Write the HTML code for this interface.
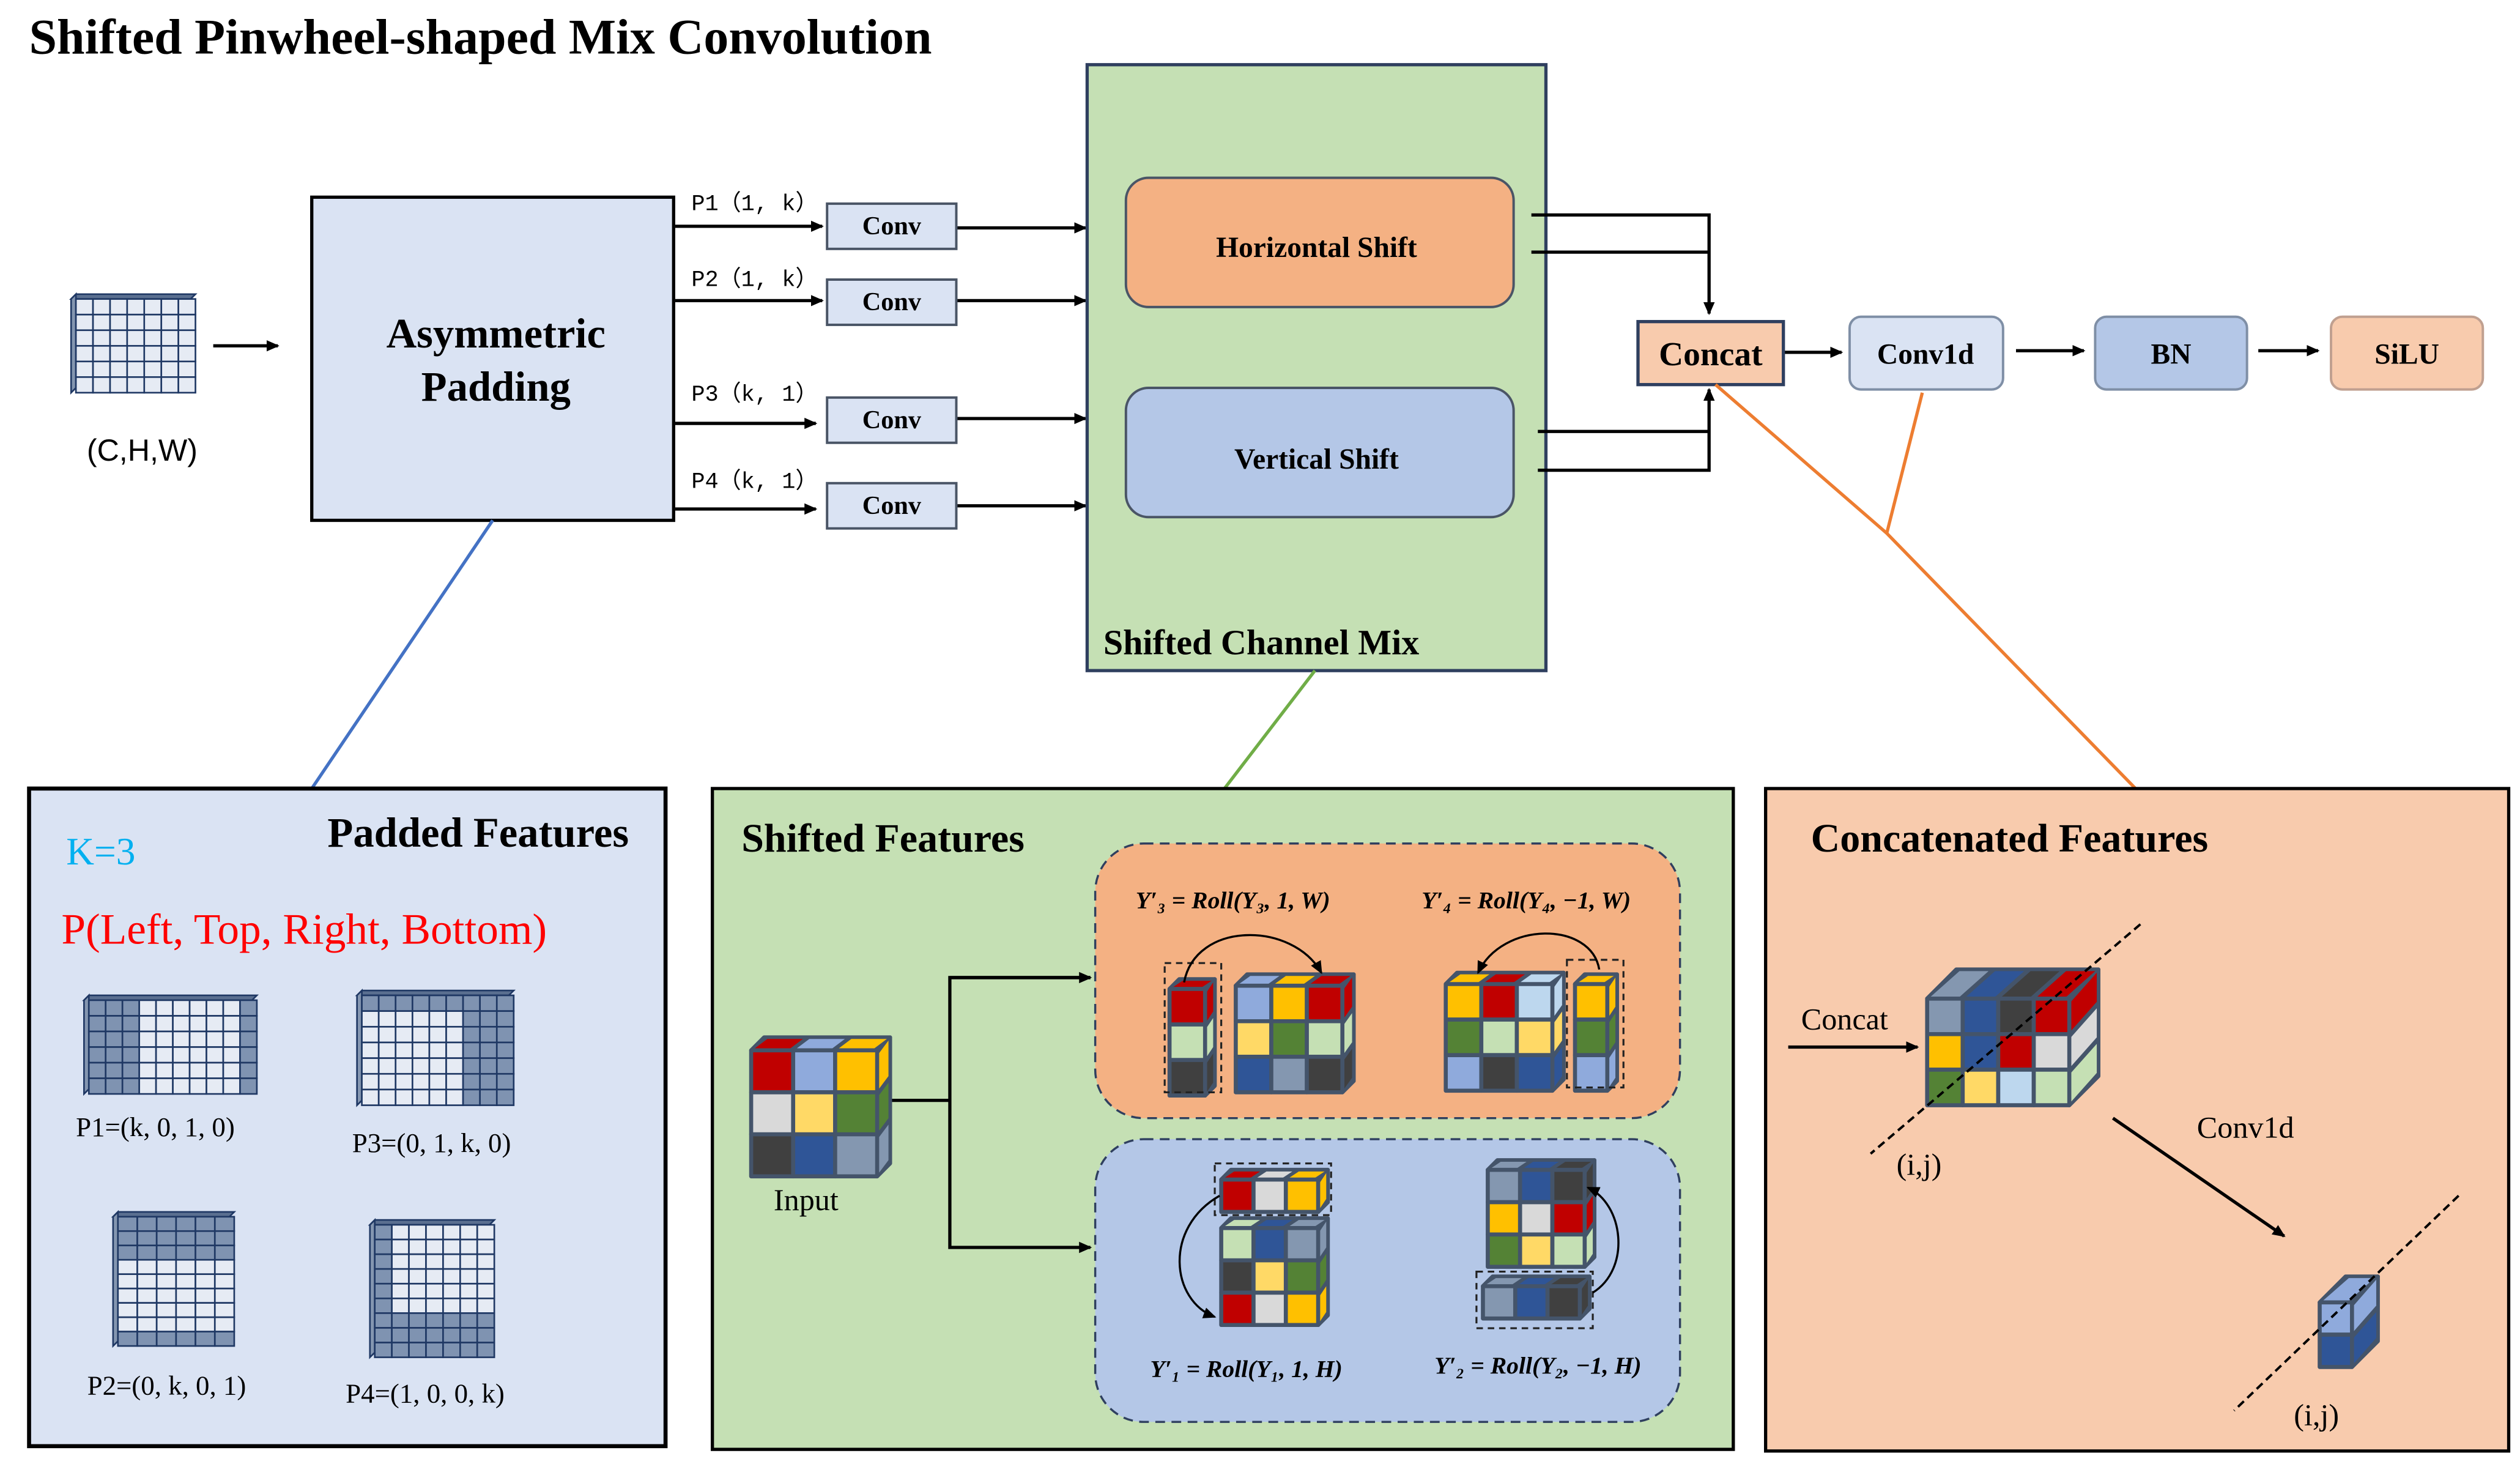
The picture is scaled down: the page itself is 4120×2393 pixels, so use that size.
<!DOCTYPE html>
<html><head><meta charset="utf-8"><style>
html,body{margin:0;padding:0;background:#fff}
svg{display:block}
text{font-family:"Liberation Serif",serif}
.b{font-weight:bold}
.m{font-family:"Liberation Mono",monospace}
</style></head><body>
<svg id="s" xmlns="http://www.w3.org/2000/svg" width="4120" height="2393" viewBox="0 0 1560 906" font-family="Liberation Serif, serif">
<defs>
<marker id="a" markerWidth="8" markerHeight="8" refX="7" refY="4" orient="auto" markerUnits="userSpaceOnUse"><path d="M0,0.5 L8,4 L0,7.5 Z" fill="#000"/></marker>
</defs>
<rect width="1560" height="906" fill="#fff"/>
<text x="18" y="33" font-size="31" class="b">Shifted Pinwheel-shaped Mix Convolution</text>

<g id="inicon"></g>
<text x="88" y="285" font-size="19" text-anchor="middle" style="font-family:'Liberation Sans',sans-serif">(C,H,W)</text>
<line x1="132" y1="214" x2="172" y2="214" stroke="#000" stroke-width="2" marker-end="url(#a)"/>

<rect x="193" y="122" width="224" height="200" fill="#dae3f3" stroke="#000" stroke-width="2"/>
<text x="307" y="215" font-size="26" class="b" text-anchor="middle">Asymmetric</text>
<text x="307" y="248" font-size="26" class="b" text-anchor="middle">Padding</text>

<g font-size="14" class="m">
<text x="428" y="130" class="m">P1（1, k）</text>
<text x="428" y="177" class="m">P2（1, k）</text>
<text x="428" y="248" class="m">P3（k, 1）</text>
<text x="428" y="302" class="m">P4（k, 1）</text>
</g>
<g stroke="#000" stroke-width="2" marker-end="url(#a)">
<line x1="418" y1="140" x2="509" y2="140"/>
<line x1="418" y1="186" x2="509" y2="186"/>
<line x1="418" y1="262" x2="505" y2="262"/>
<line x1="418" y1="315" x2="505" y2="315"/>
<line x1="592" y1="141" x2="672" y2="141"/>
<line x1="592" y1="186" x2="672" y2="186"/>
<line x1="592" y1="259" x2="672" y2="259"/>
<line x1="592" y1="313" x2="672" y2="313"/>
</g>
<g fill="#dae3f3" stroke="#4a5566" stroke-width="1.5">
<rect x="512" y="126" width="80" height="28"/>
<rect x="512" y="173" width="80" height="28"/>
<rect x="512" y="246" width="80" height="28"/>
<rect x="512" y="299" width="80" height="28"/>
</g>
<g font-size="16" class="b" text-anchor="middle">
<text x="552" y="145">Conv</text><text x="552" y="192">Conv</text><text x="552" y="265">Conv</text><text x="552" y="318">Conv</text>
</g>

<rect x="673" y="40" width="284" height="375" fill="#c5e0b4" stroke="#2f3f5f" stroke-width="2"/>
<text x="683" y="405" font-size="22" class="b">Shifted Channel Mix</text>
<rect x="697" y="110" width="240" height="80" rx="14" fill="#f4b183" stroke="#4a5566" stroke-width="1.5"/>
<text x="815" y="159" font-size="18" class="b" text-anchor="middle">Horizontal Shift</text>
<rect x="697" y="240" width="240" height="80" rx="14" fill="#b4c7e7" stroke="#4a5566" stroke-width="1.5"/>
<text x="815" y="290" font-size="18" class="b" text-anchor="middle">Vertical Shift</text>

<g stroke="#000" stroke-width="2" fill="none">
<polyline points="948,133 1058,133 1058,194" marker-end="url(#a)"/>
<line x1="948" y1="156" x2="1058" y2="156"/>
<polyline points="952,291 1058,291 1058,241" marker-end="url(#a)"/>
<line x1="952" y1="267" x2="1058" y2="267"/>
<line x1="1104" y1="218" x2="1140" y2="218" marker-end="url(#a)"/>
<line x1="1248" y1="217" x2="1290" y2="217" marker-end="url(#a)"/>
<line x1="1398" y1="217" x2="1435" y2="217" marker-end="url(#a)"/>
</g>
<rect x="1014" y="199" width="90" height="39" fill="#f8cbad" stroke="#2f3f5f" stroke-width="2"/>
<text x="1059" y="226" font-size="21" class="b" text-anchor="middle">Concat</text>
<rect x="1145" y="196" width="95" height="45" rx="7" fill="#dae3f3" stroke="#7f8fa6" stroke-width="1.5"/>
<text x="1192" y="225" font-size="18" class="b" text-anchor="middle">Conv1d</text>
<rect x="1297" y="196" width="94" height="45" rx="7" fill="#b4c7e7" stroke="#7f8fa6" stroke-width="1.5"/>
<text x="1344" y="225" font-size="18" class="b" text-anchor="middle">BN</text>
<rect x="1443" y="196" width="94" height="45" rx="7" fill="#f8cbad" stroke="#c0a090" stroke-width="1.5"/>
<text x="1490" y="225" font-size="18" class="b" text-anchor="middle">SiLU</text>

<line x1="305" y1="322" x2="193" y2="488" stroke="#4472c4" stroke-width="2"/>
<line x1="814" y1="415" x2="758" y2="488" stroke="#70ad47" stroke-width="2"/>
<g stroke="#ed7d31" stroke-width="2" fill="none">
<polyline points="1062,238 1168,330 1322,488"/>
<line x1="1190" y1="243" x2="1168" y2="330"/>
</g>

<rect x="18" y="488" width="394" height="407" fill="#dae3f3" stroke="#000" stroke-width="2.5"/>
<text x="296" y="524" font-size="26" class="b" text-anchor="middle">Padded Features</text>
<text x="41" y="535" font-size="24" fill="#00b0f0">K=3</text>
<text x="38" y="584" font-size="27" fill="#ff0000">P(Left, Top, Right, Bottom)</text>
<g id="pads"></g>
<g font-size="17">
<text x="47" y="703">P1=(k, 0, 1, 0)</text>
<text x="218" y="713">P3=(0, 1, k, 0)</text>
<text x="54" y="863">P2=(0, k, 0, 1)</text>
<text x="214" y="868">P4=(1, 0, 0, k)</text>
</g>

<rect x="441" y="488" width="632" height="409" fill="#c5e0b4" stroke="#000" stroke-width="2"/>
<text x="459" y="527" font-size="25" class="b">Shifted Features</text>
<rect x="678" y="522" width="362" height="170" rx="30" fill="#f4b183" stroke="#2f3f5f" stroke-width="1.3" stroke-dasharray="6,4"/>
<rect x="678" y="705" width="362" height="175" rx="30" fill="#b4c7e7" stroke="#2f3f5f" stroke-width="1.3" stroke-dasharray="6,4"/>
<g stroke="#000" stroke-width="2" fill="none">
<line x1="550" y1="681" x2="588" y2="681"/>
<polyline points="675,605 588,605 588,772 675,772" marker-end="url(#a)"/>
<line x1="588" y1="605" x2="675" y2="605" marker-end="url(#a)"/>
</g>
<text x="499" y="749" font-size="19" text-anchor="middle">Input</text>
<g font-size="15" class="b" font-style="italic">
<text x="703" y="562">Y′₃ = Roll(Y₃, 1, W)</text>
<text x="880" y="562">Y′₄ = Roll(Y₄, −1, W)</text>
<text x="712" y="852">Y′₁ = Roll(Y₁, 1, H)</text>
<text x="888" y="850">Y′₂ = Roll(Y₂, −1, H)</text>
</g>
<g id="cubes"></g>
<g fill="none" stroke="#222" stroke-width="1.2" stroke-dasharray="4,3">
<rect x="721" y="596" width="35" height="80"/>
<rect x="970" y="594" width="35" height="79"/>
<rect x="752" y="720" width="72" height="32"/>
<rect x="914" y="787" width="72" height="35"/>
</g>
<g fill="none" stroke="#000" stroke-width="1.3">
<path d="M733,608 C740,570 800,570 818,602" marker-end="url(#a)"/>
<path d="M990,600 C985,570 930,570 915,602" marker-end="url(#a)"/>
<path d="M755,740 C720,760 725,805 752,815" marker-end="url(#a)"/>
<path d="M986,800 C1010,785 1005,745 983,735" marker-end="url(#a)"/>
</g>

<rect x="1093" y="488" width="460" height="410" fill="#f8cbad" stroke="#000" stroke-width="2"/>
<text x="1121" y="527" font-size="25" class="b">Concatenated Features</text>
<text x="1115" y="637" font-size="19">Concat</text>
<line x1="1107" y1="648" x2="1187" y2="648" stroke="#000" stroke-width="2" marker-end="url(#a)"/>
<text x="1360" y="704" font-size="19">Conv1d</text>
<line x1="1308" y1="692" x2="1414" y2="765" stroke="#000" stroke-width="2" marker-end="url(#a)"/>
<text x="1174" y="727" font-size="19">(i,j)</text>
<text x="1420" y="882" font-size="19">(i,j)</text>
<g id="cubes2"></g>
<g stroke="#000" stroke-width="1.5" stroke-dasharray="5,3">
<line x1="1325" y1="572" x2="1158" y2="714"/>
<line x1="1522" y1="740" x2="1383" y2="873"/>
</g>
</svg>
<script>
var NS="http://www.w3.org/2000/svg";
function el(p,t,a){var e=document.createElementNS(NS,t);for(var k in a)e.setAttribute(k,a[k]);p.appendChild(e);return e;}
var C={r:"#c00000",b:"#8faadc",y:"#ffc000",w:"#d9d9d9",l:"#ffd966",g:"#548235",k:"#404040",n:"#2f5597",s:"#8497b0",e:"#c5e0b4",c:"#bdd7ee",p:"#dae3f3"};
function cube(p,x,y,cw,ch,cols,rows,d,f){
 var st="#44546a",W=cw*cols,H=ch*rows;
 var g=el(p,"g",{stroke:st,"stroke-width":2.5,"stroke-linejoin":"round"});
 el(g,"polygon",{points:[x,y+d,x+d,y,x+d+W,y,x+W,y+d].join(","),fill:st});
 el(g,"polygon",{points:[x+W,y+d,x+W+d,y,x+W+d,y+H,x+W,y+H+d].join(","),fill:st});
 for(var c=0;c<cols;c++){var k=f[0][c];el(g,"polygon",{points:[x+c*cw+2,y+d-1,x+c*cw+d+2,y+1,x+(c+1)*cw+d-2,y+1,x+(c+1)*cw-2,y+d-1].join(","),fill:C[k],stroke:"none"});}
 for(var r=0;r<rows;r++){var k2=f[r][cols-1];el(g,"polygon",{points:[x+W+1,y+d+r*ch+2,x+W+d-1,y+r*ch+2,x+W+d-1,y+(r+1)*ch-2,x+W+1,y+d+(r+1)*ch-2].join(","),fill:C[k2],stroke:"none"});}
 for(var r=0;r<rows;r++)for(var c=0;c<cols;c++)el(g,"rect",{x:x+c*cw,y:y+d+r*ch,width:cw,height:ch,fill:C[f[r][c]]});
}
var cb=document.getElementById("cubes");
cube(cb,465,642,26,26,3,3,8,["rby","wlg","kns"]);
cube(cb,724,606,22,22,1,3,6,["r","e","k"]);
cube(cb,765,603,22,22,3,3,7,["byr","lge","nsk"]);
cube(cb,895,602,22,22,3,3,7,["yrc","gel","bkn"]);
cube(cb,975,603,20,22,1,3,6,["y","g","b"]);
cube(cb,756,724,20,20,3,1,6,["rwy"]);
cube(cb,756,754,20,20,3,3,6,["ens","klg","rwy"]);
cube(cb,921,718,20,20,3,3,6,["snk","ywr","gle"]);
cube(cb,918,790,20,20,3,1,6,["snk"]);
var c2=document.getElementById("cubes2");
cube(c2,1193,600,22,22,4,3,18,["snkr","ynrw","glce"]);
cube(c2,1436,790,20,20,1,2,16,["b","n"]);
function grid(p,x,y,w,h,cols,rows,dark,d){
 var g=el(p,"g",{});
 el(g,"polygon",{points:[x,y+d,x+d,y,x+d+w,y,x+w,y+d].join(","),fill:"#5a6f90",stroke:"#1f3864","stroke-width":1});
 el(g,"polygon",{points:[x,y+d,x,y+h+d,x+d,y+h,x+d,y].join(","),fill:"#8496b0",stroke:"#1f3864","stroke-width":1});
 var cw=w/cols,ch=h/rows;
 for(var r=0;r<rows;r++)for(var c=0;c<cols;c++)el(g,"rect",{x:x+d+c*cw,y:y+d+r*ch,width:cw,height:ch,fill:dark(r,c)?"#7f93b1":"#e6ebf4",stroke:"#1f3864","stroke-width":1});
}
var ic=document.getElementById("inicon");
grid(ic,44,182,74,58,7,6,function(){return false},3);
var pd=document.getElementById("pads");
grid(pd,52,616,104,58,10,6,function(r,c){return c<3||c==9},3);
grid(pd,221,613,94,68,9,7,function(r,c){return c>=6||r==0},3);
grid(pd,70,750,72,80,6,9,function(r,c){return r<3||r==8},3);
grid(pd,229,755,74,82,7,9,function(r,c){return c==0||r>=6},3);
</script>
</body></html>
